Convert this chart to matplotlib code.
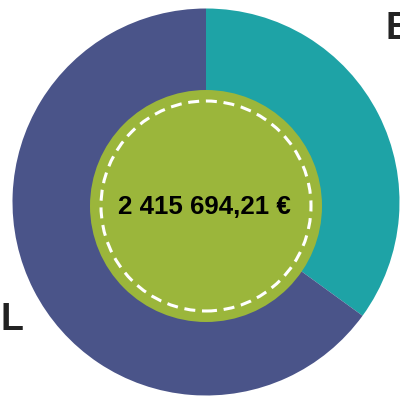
import matplotlib.pyplot as plt
from matplotlib.patches import Circle

# share of the total amount
categories = ["E", "L"]
shares = [35, 65]
total_label = "2 415 694,21 €"

colors = ["#1ea3a6", "#4a5489"]
green = "#9bb63b"

plt.rcParams["font.family"] = ["Liberation Sans", "DejaVu Sans"]

fig = plt.figure(figsize=(4, 4), dpi=100)
ax = fig.add_axes([0, 0, 1, 1])

ax.pie(shares, colors=colors, startangle=90, counterclock=False,
       center=(206, 198), radius=193.5, frame=True,
       wedgeprops=dict(linewidth=0))

# green centre with dashed ring
ax.add_patch(Circle((206, 194), 116, facecolor=green, edgecolor="none", zorder=3))
ax.add_patch(Circle((206, 194), 105, facecolor="none", edgecolor="white",
                    linewidth=2.2, linestyle=(0, (3.6, 2.2)), zorder=4))

ax.text(204, 193, total_label, ha="center", va="center", fontsize=18.6,
        fontweight="bold", color="#000000", zorder=5)

ax.text(385, 371, categories[0], ha="left", va="center", fontsize=27,
        fontweight="bold", color="#222222")
ax.text(0.5, 80, categories[1], ha="left", va="center", fontsize=27,
        fontweight="bold", color="#222222")

ax.set_xlim(0, 400)
ax.set_ylim(0, 400)
ax.set_aspect("equal")
ax.axis("off")

plt.savefig("out.png", dpi=100)
plt.close()
